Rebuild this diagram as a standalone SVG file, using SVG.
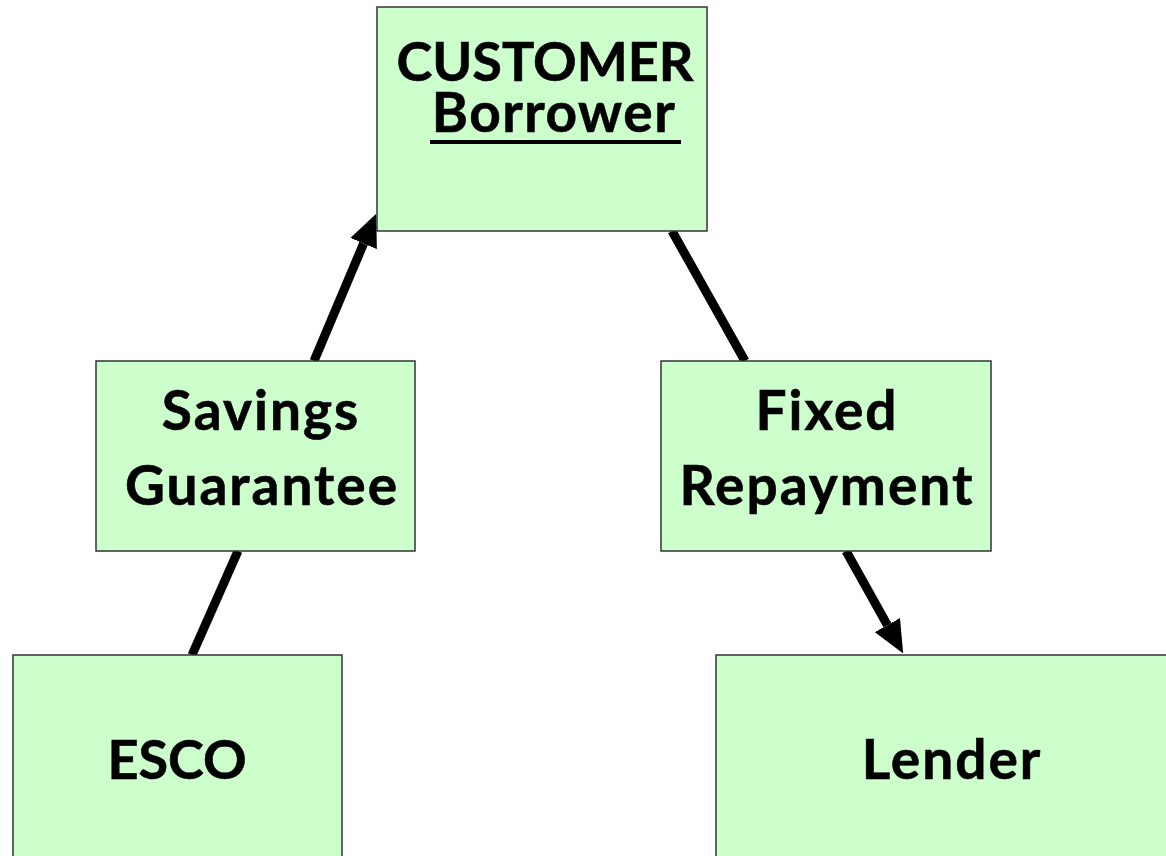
<svg xmlns="http://www.w3.org/2000/svg" width="1166" height="856" viewBox="0 0 1166 856">
<style>
.box{fill:#CCFFCC;stroke:#333;stroke-width:1.5}
.t{font-family:Lato,"Liberation Sans",sans-serif;font-weight:bold;fill:#000;stroke:#000;stroke-width:0.6;text-anchor:middle}
.caps{font-size:54px}
.mix{font-size:55px;letter-spacing:2px}
.c{stroke:#000;stroke-width:9;fill:none}
</style>
<defs>
<marker id="ah" markerWidth="3.6" markerHeight="3.2" refX="0" refY="1.6" orient="auto" markerUnits="strokeWidth" viewBox="0 0 3.6 3.2">
<path d="M0,0 L3.6,1.6 L0,3.2 Z" fill="#000"/>
</marker>
</defs>
<rect width="1166" height="856" fill="#fff"/>
<g id="connectors">
<line class="c" x1="192" y1="655" x2="238" y2="551"/>
<line class="c" x1="314" y1="361" x2="363.6" y2="243.5" marker-end="url(#ah)"/>
<line class="c" x1="672" y1="231" x2="745" y2="361"/>
<line class="c" x1="846" y1="551" x2="887.4" y2="625.1" marker-end="url(#ah)"/>
</g>
<g id="customer">
<rect class="box" x="377" y="7" width="330" height="224"/>
<text class="t caps" x="545" y="81">CUSTOMER<tspan class="mix" x="554" y="132" style="letter-spacing:1.5px">Borrower</tspan></text>
<rect x="430" y="140" width="251" height="4" fill="#000"/>
</g>
<g id="savings">
<rect class="box" x="96" y="361" width="319" height="190"/>
<text class="t mix" x="261" y="430">Savings</text>
<text class="t mix" x="262" y="505">Guarantee</text>
</g>
<g id="fixed">
<rect class="box" x="661" y="361" width="330" height="190"/>
<text class="t mix" x="827" y="430">Fixed</text>
<text class="t mix" x="827" y="505">Repayment</text>
</g>
<g id="esco">
<rect class="box" x="13" y="655" width="329" height="210"/>
<text class="t caps" x="177" y="779">ESCO</text>
</g>
<g id="lender">
<rect class="box" x="716" y="655" width="460" height="210"/>
<text class="t mix" x="952" y="779">Lender</text>
</g>
</svg>
